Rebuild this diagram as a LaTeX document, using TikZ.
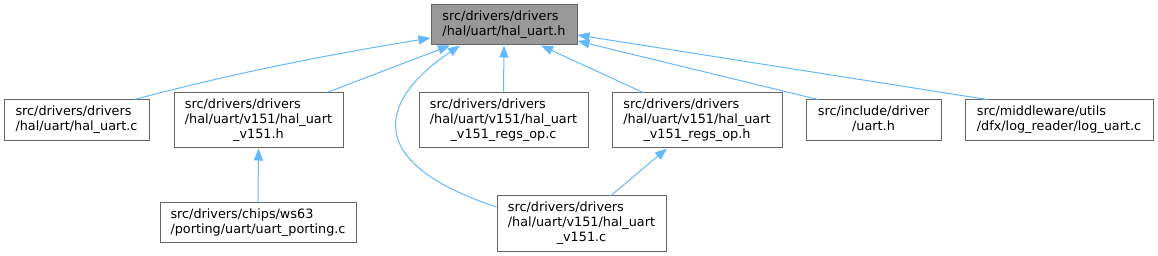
\documentclass[tikz,border=0pt]{standalone}
\usepackage{fontspec}
\newfontfamily\dxfont{DejaVu Sans}
\usetikzlibrary{arrows.meta}
\definecolor{edgeblue}{HTML}{63B8FF}
\definecolor{boxline}{HTML}{666666}
\definecolor{focusfill}{HTML}{999999}
\newcommand\dxlines[1]{\begin{tabular}{@{}l@{}}#1\end{tabular}}
\newcommand\lastln[1]{\multicolumn{1}{@{}c@{}}{#1}}

\begin{document}
\begin{tikzpicture}[x=1pt, y=-1pt, font=\dxfont\fontsize{12.8}{15}\selectfont,
  box/.style={draw=boxline, line width=1pt, fill=white, inner sep=0pt},
  edge/.style={draw=edgeblue, line width=1pt, {Triangle[length=12pt,width=9pt]}-}]
\useasboundingbox (0,0) rectangle (1158,256);
\node[box, fill=focusfill, minimum width=146pt, minimum height=40pt] (top) at (504,25) {\dxlines{src/drivers/drivers\\/hal/uart/hal\_uart.h}};
\node[box, minimum width=145pt, minimum height=41pt] (a) at (76.5,120.5) {\dxlines{src/drivers/drivers\\/hal/uart/hal\_uart.c}};
\node[box, minimum width=169pt, minimum height=55pt] (b) at (258.5,120.5) {\dxlines{src/drivers/drivers\\/hal/uart/v151/hal\_uart\\\lastln{\_v151.h}}};
\node[box, minimum width=169pt, minimum height=55pt] (c) at (503.5,120.5) {\dxlines{src/drivers/drivers\\/hal/uart/v151/hal\_uart\\\lastln{\_v151\_regs\_op.c}}};
\node[box, minimum width=170pt, minimum height=55pt] (d) at (697,120.5) {\dxlines{src/drivers/drivers\\/hal/uart/v151/hal\_uart\\\lastln{\_v151\_regs\_op.h}}};
\node[box, minimum width=135pt, minimum height=41pt] (e) at (873.5,120.5) {\dxlines{src/include/driver\\\lastln{/uart.h}}};
\node[box, minimum width=188pt, minimum height=41pt] (f) at (1059,120.5) {\dxlines{src/middleware/utils\\/dfx/log\_reader/log\_uart.c}};
\node[box, minimum width=196pt, minimum height=40pt] (g) at (258,223) {\dxlines{src/drivers/chips/ws63\\/porting/uart/uart\_porting.c}};
\node[box, minimum width=169pt, minimum height=55pt] (h) at (581.5,223.5) {\dxlines{src/drivers/drivers\\/hal/uart/v151/hal\_uart\\\lastln{\_v151.c}}};
\draw[edge] ([yshift=-13pt]top.west) .. controls +(-99,16) and +(97,-26) .. ([xshift=58pt]a.north);
\draw[edge] ([xshift=-54pt]top.south) -- ([xshift=68.5pt]b.north);
\draw[edge] ([xshift=-44pt]top.south) .. controls +(-75,50) and +(-142,-47) .. ([yshift=16.5pt]h.west);
\draw[edge] (top.south) -- (c.north);
\draw[edge] ([xshift=37pt]top.south) -- ([xshift=-54pt]d.north);
\draw[edge] ([yshift=-16pt]top.east) -- ([xshift=-55.5pt]e.north);
\draw[edge] ([yshift=-10pt]top.east) -- ([xshift=-72pt]f.north);
\draw[edge] (b.south) -- (g.north);
\draw[edge] ([xshift=-30pt]d.south) -- ([xshift=29.5pt]h.north);
\end{tikzpicture}
\end{document}
